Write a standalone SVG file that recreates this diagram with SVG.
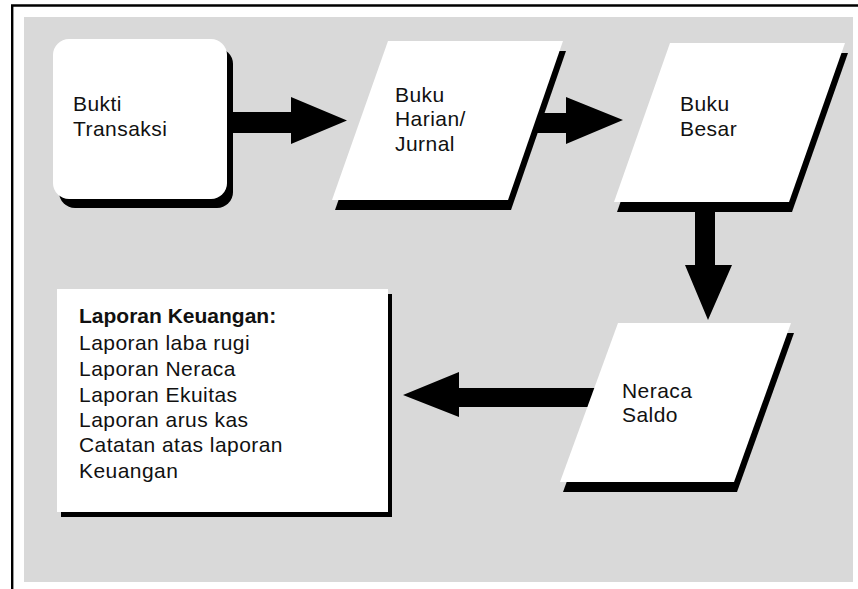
<svg xmlns="http://www.w3.org/2000/svg" width="858" height="589" viewBox="0 0 858 589">
<style>
.t{font-family:"Liberation Sans",Arial,sans-serif;font-size:21px;fill:#111;letter-spacing:0.45px}
.b{font-weight:bold;letter-spacing:0}
.sh{fill:#000}
.wh{fill:#fff}
.ar{fill:#000}
</style>
<rect x="0" y="0" width="858" height="589" fill="#fff"/>
<path d="M12.2,589 V5.5 H858" fill="none" stroke="#000" stroke-width="2.4"/>
<rect x="24" y="17" width="829" height="565" fill="#d9d9d9"/>
<g id="connectors">
  <path class="ar" d="M225,112 H291 V97 L347,120.5 L291,144 V133 H225 Z"/>
  <path class="ar" d="M525,113 H566 V97 L623,120 L566,144 V133 H525 Z"/>
  <path class="ar" d="M695,205 V265 H685 L708,320 L732,265 H715 V205 Z"/>
  <path class="ar" d="M600,388 H459 V372 L403,395 L459,417 V407 H600 Z"/>
</g>
<g id="bukti-transaksi">
  <rect class="sh" x="59" y="48" width="174" height="160" rx="16"/>
  <rect class="wh" x="53" y="39" width="174" height="160" rx="16"/>
  <text class="t" x="73" y="111">Bukti</text>
  <text class="t" x="73" y="136">Transaksi</text>
</g>
<g id="buku-harian">
  <polygon class="sh" points="391,51 566,51 511,210 335,210"/>
  <polygon class="wh" points="388,41 563,41 508,200 332,200"/>
  <text class="t" x="395" y="102">Buku</text>
  <text class="t" x="395" y="126">Harian/</text>
  <text class="t" x="395" y="151">Jurnal</text>
</g>
<g id="buku-besar">
  <polygon class="sh" points="673,53 848,53 792,212 617,212"/>
  <polygon class="wh" points="670,43 845,43 789,202 614,202"/>
  <text class="t" x="680" y="111">Buku</text>
  <text class="t" x="680" y="136">Besar</text>
</g>
<g id="neraca-saldo">
  <polygon class="sh" points="621,333 794,333 737,492 563,492"/>
  <polygon class="wh" points="618,323 791,323 734,482 560,482"/>
  <text class="t" x="622" y="398">Neraca</text>
  <text class="t" x="622" y="422">Saldo</text>
</g>
<g id="laporan-keuangan">
  <rect class="sh" x="61" y="294" width="331" height="223"/>
  <rect class="wh" x="57" y="289" width="331" height="223"/>
  <text class="t b" x="79" y="323">Laporan Keuangan:</text>
  <text class="t" x="79" y="350">Laporan laba rugi</text>
  <text class="t" x="79" y="376">Laporan Neraca</text>
  <text class="t" x="79" y="402">Laporan Ekuitas</text>
  <text class="t" x="79" y="427">Laporan arus kas</text>
  <text class="t" x="79" y="452">Catatan atas laporan</text>
  <text class="t" x="79" y="478">Keuangan</text>
</g>
</svg>
